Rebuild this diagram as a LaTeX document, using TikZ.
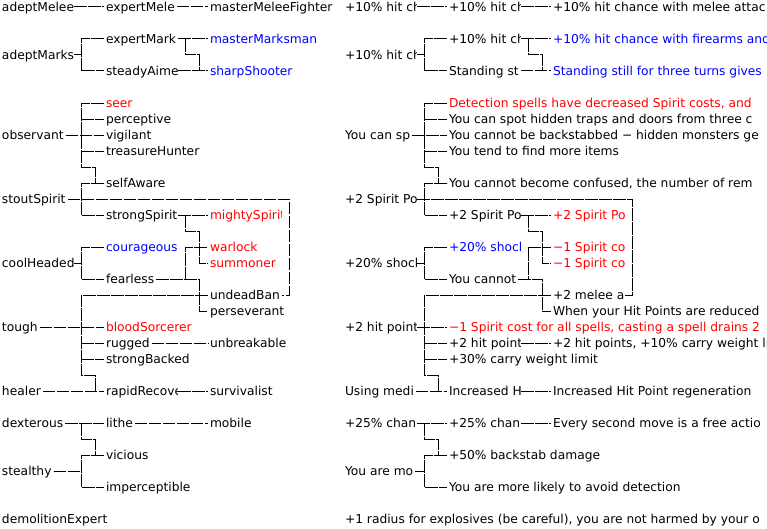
\documentclass[tikz,border=0pt]{standalone}
\usepackage{fontspec}
\setmainfont{DejaVu Sans}
\definecolor{tred}{RGB}{255,0,0}
\definecolor{tblue}{RGB}{0,0,255}
\newcommand\capw[1]{\setbox0=\hbox{#1}\ifdim\wd0>52.5pt\wd0=52.5pt\fi\box0}
% unclipped text node: name, column, row, style, text
\newcommand\tn[5]{\node[txt,#4] (#1) at ({104*#2},{7+16*#3}) {#5};}
% text node clipped at the column width
\newcommand\tc[5]{\begin{scope}\clip ({104*#2},{7+16*#3-8}) rectangle ({104*#2+73},{7+16*#3+8});
  \node[txt,#4] (#1) at ({104*#2},{7+16*#3}) {\capw{#5}};\end{scope}}
\newcommand\links{%
\draw[ln] (aMelee.east) -- (eMelee.west);
\draw[ln] (eMelee.east) -- (mMelee.west);
\draw[ln] (aMarks.east) -- (81,55);
\draw[ln] (eMark.west) -| (81,71) -- (sAim.west);
\draw[ln] (eMark.east) -- (mMark.west);
\draw[ln] (185,39) -- (185,55) -| (199,71);
\draw[ln] (sAim.east) -- (sShoot.west);
\draw[ln] (observ.east) -- (vigil.west);
\draw[ln] (seer.west) -| (81,167) -| (95,183) -- (selfAw.west);
\draw[ln] (81,119) -- (percep.west);
\draw[ln] (81,151) -- (treas.west);
\draw[ln] (selfAw.west) -| (81,215) -- (strongSp.west);
\draw[ln] (stout.east) -| (289,295) -- (undead.east);
\draw[ln] (strongSp.east) -- (mighty.west);
\draw[ln] (185,215) -- (185,231) -| (199,263) -- (summon.west);
\draw[ln] (courag.west) -| (81,279) -- (fearless.west);
\draw[ln] (coolH.east) -- (81,263);
\draw[ln] (fearless.east) -| (185,247) -- (warlock.west);
\draw[ln] (fearless.east) -| (199,311) -- (persev.west);
\draw[ln] (tough.east) -- (blood.west);
\draw[ln] (undead.west) -| (81,375) -| (95,391);
\draw[ln] (81,343) -- (rugged.west);
\draw[ln] (81,359) -- (strongB.west);
\draw[ln] (healer.east) -- (rapid.west);
\draw[ln] (rugged.east) -- (unbreak.west);
\draw[ln] (rapid.east) -- (surviv.west);
\draw[ln] (dext.east) -- (lithe.west);
\draw[ln] (81,423) -- (81,439) -| (95,455);
\draw[ln] (stealthy.east) -- (81,471);
\draw[ln] (vicious.west) -| (81,487) -- (impercep.west);
\draw[ln] (lithe.east) -- (mobile.west);
}
\begin{document}
\begin{tikzpicture}[x=0.75pt,y=-0.75pt,
  txt/.style={font=\fontsize{9.2pt}{11pt}\selectfont,anchor=west,inner sep=0pt,outer sep=1.5pt,text height=9pt,text depth=2.25pt},
  red/.style={text=tred}, blue/.style={text=tblue},
  ln/.style={draw=black,line width=0.75pt,dash pattern=on 9.4pt off 1.1pt}]
\useasboundingbox (0,0) rectangle (767,528);
\fill[white] (0,0) rectangle (767,528);
\clip (0,0) rectangle (767,528);
% ---------- left tree: perk names ----------
\begin{scope}[name prefix=L-]
\tc{aMelee}{0}{0}{}{adeptMelee}
\tc{eMelee}{1}{0}{}{expertMele}
\tn{mMelee}{2}{0}{}{masterMeleeFighter}
\tc{eMark}{1}{2}{}{expertMark}
\tn{mMark}{2}{2}{blue}{masterMarksman}
\tc{aMarks}{0}{3}{}{adeptMarks}
\tc{sAim}{1}{4}{}{steadyAime}
\tn{sShoot}{2}{4}{blue}{sharpShooter}
\tn{seer}{1}{6}{red}{seer}
\tn{percep}{1}{7}{}{perceptive}
\tc{observ}{0}{8}{}{observant}
\tn{vigil}{1}{8}{}{vigilant}
\tn{treas}{1}{9}{}{treasureHunter}
\tn{selfAw}{1}{11}{}{selfAware}
\tc{stout}{0}{12}{}{stoutSpirit}
\tc{strongSp}{1}{13}{}{strongSpirit}
\tc{mighty}{2}{13}{red}{mightySpirit}
\tc{courag}{1}{15}{blue}{courageous}
\tc{warlock}{2}{15}{red}{warlock}
\tc{coolH}{0}{16}{}{coolHeaded}
\tc{summon}{2}{16}{red}{summoner}
\tc{fearless}{1}{17}{}{fearless}
\tc{undead}{2}{18}{}{undeadBan}
\tn{persev}{2}{19}{}{perseverant}
\tc{tough}{0}{20}{}{tough}
\tn{blood}{1}{20}{red}{bloodSorcerer}
\tc{rugged}{1}{21}{}{rugged}
\tn{unbreak}{2}{21}{}{unbreakable}
\tn{strongB}{1}{22}{}{strongBacked}
\tc{healer}{0}{24}{}{healer}
\tc{rapid}{1}{24}{}{rapidRecove}
\tn{surviv}{2}{24}{}{survivalist}
\tc{dext}{0}{26}{}{dexterous}
\tc{lithe}{1}{26}{}{lithe}
\tn{mobile}{2}{26}{}{mobile}
\tn{vicious}{1}{28}{}{vicious}
\tc{stealthy}{0}{29}{}{stealthy}
\tn{impercep}{1}{30}{}{imperceptible}
\tn{demol}{0}{32}{}{demolitionExpert}
\links
\end{scope}
% ---------- right tree: descriptions ----------
\begin{scope}[shift={(343,0)},name prefix=R-]
\tc{aMelee}{0}{0}{}{+10\% hit ch}
\tc{eMelee}{1}{0}{}{+10\% hit ch}
\tn{mMelee}{2}{0}{}{+10\% hit chance with melee attac}
\tc{eMark}{1}{2}{}{+10\% hit ch}
\tn{mMark}{2}{2}{blue}{+10\% hit chance with firearms and}
\tc{aMarks}{0}{3}{}{+10\% hit ch}
\tc{sAim}{1}{4}{}{Standing st}
\tn{sShoot}{2}{4}{blue}{Standing still for three turns gives}
\tn{seer}{1}{6}{red}{Detection spells have decreased Spirit costs, and}
\tn{percep}{1}{7}{}{You can spot hidden traps and doors from three c}
\tc{observ}{0}{8}{}{You can sp}
\tn{vigil}{1}{8}{}{You cannot be backstabbed − hidden monsters ge}
\tn{treas}{1}{9}{}{You tend to find more items}
\tn{selfAw}{1}{11}{}{You cannot become confused, the number of rem}
\tc{stout}{0}{12}{}{+2 Spirit Po}
\tc{strongSp}{1}{13}{}{+2 Spirit Po}
\tc{mighty}{2}{13}{red}{+2 Spirit Po}
\tc{courag}{1}{15}{blue}{+20\% shock}
\tc{warlock}{2}{15}{red}{−1 Spirit co}
\tc{coolH}{0}{16}{}{+20\% shock}
\tc{summon}{2}{16}{red}{−1 Spirit co}
\tc{fearless}{1}{17}{}{You cannot}
\tc{undead}{2}{18}{}{+2 melee a}
\tn{persev}{2}{19}{}{When your Hit Points are reduced}
\tc{tough}{0}{20}{}{+2 hit point}
\tn{blood}{1}{20}{red}{−1 Spirit cost for all spells, casting a spell drains 2}
\tc{rugged}{1}{21}{}{+2 hit point}
\tn{unbreak}{2}{21}{}{+2 hit points, +10\% carry weight li}
\tn{strongB}{1}{22}{}{+30\% carry weight limit}
\tc{healer}{0}{24}{}{Using medi}
\tc{rapid}{1}{24}{}{Increased H}
\tn{surviv}{2}{24}{}{Increased Hit Point regeneration}
\tc{dext}{0}{26}{}{+25\% chanc}
\tc{lithe}{1}{26}{}{+25\% chanc}
\tn{mobile}{2}{26}{}{Every second move is a free actio}
\tn{vicious}{1}{28}{}{+50\% backstab damage}
\tc{stealthy}{0}{29}{}{You are mo}
\tn{impercep}{1}{30}{}{You are more likely to avoid detection}
\tn{demol}{0}{32}{}{+1 radius for explosives (be careful), you are not harmed by your o}
\links
\end{scope}
\end{tikzpicture}
\end{document}
